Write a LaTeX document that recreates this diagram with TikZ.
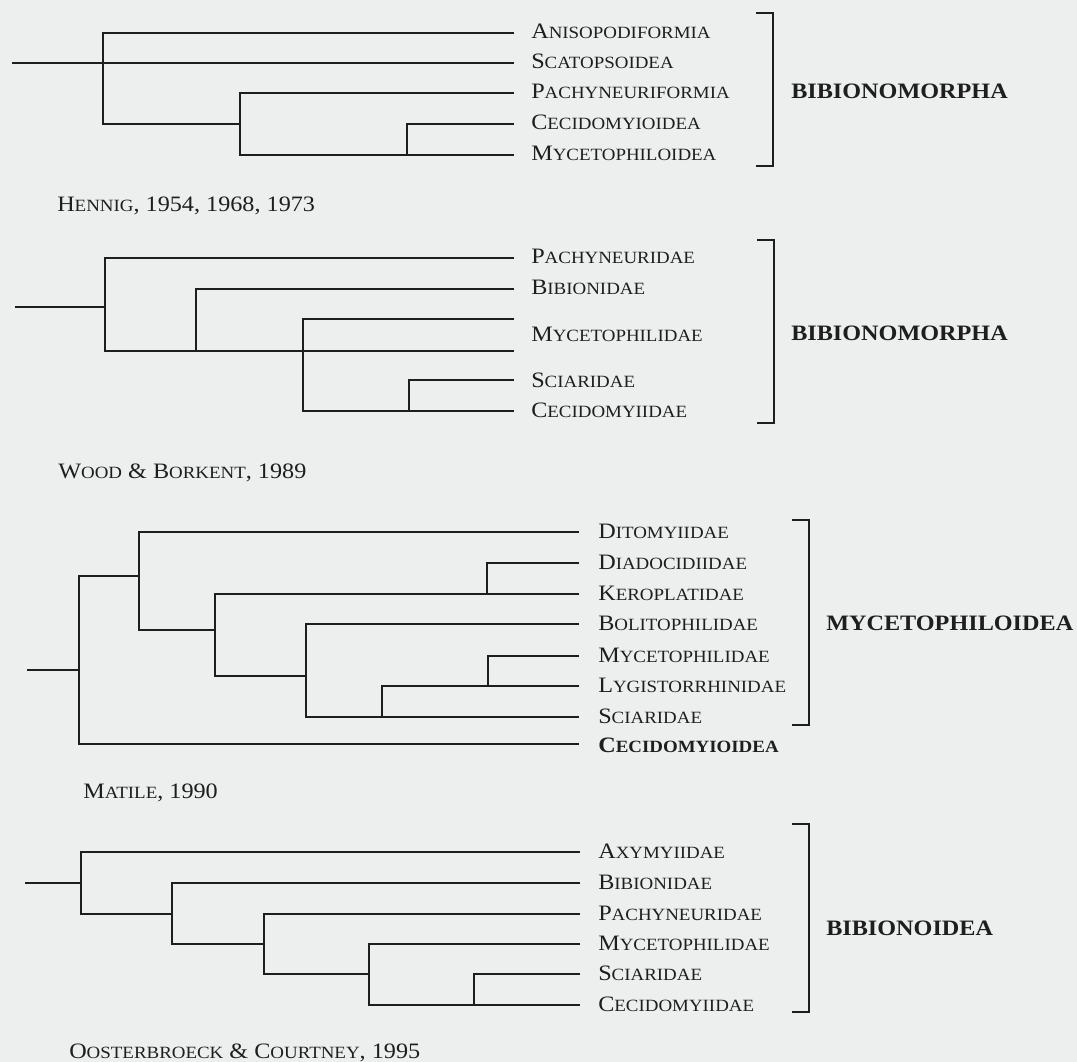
\documentclass[tikz,border=0pt]{standalone}
\usepackage{fontspec}
\newfontfamily\labfont[FakeStretch=1.1]{Liberation Serif}
\definecolor{paper}{HTML}{EDEFEF}
\definecolor{ink}{HTML}{1E1E1E}
% small capitals: full-size initial, reduced capitals after it
\newcommand\scap[2]{#1{\fontsize{12.9pt}{12.9pt}\selectfont #2}}
\tikzset{
  lab/.style={anchor=base west, inner sep=0pt, text=ink,
    font=\labfont\fontsize{16.5pt}{16.5pt}\selectfont},
  grp/.style={lab, font=\labfont\bfseries\fontsize{16.5pt}{16.5pt}\selectfont},
  branch/.style={draw=ink, line width=1.5pt},
  brk/.style={draw=ink, line width=1.5pt},
}
\begin{document}
\begin{tikzpicture}[x=0.75pt, y=-0.75pt]
\fill[paper] (0,0) rectangle (1077,1062);
\useasboundingbox (0,0) rectangle (1077,1062);

% ---------------- Hennig ----------------
\coordinate (h0) at (12,63);
\coordinate (hA) at (103,63);
\coordinate (hB) at (240,124);
\coordinate (hC) at (407,155);
\coordinate (h1e) at (514,33);
\coordinate (h2e) at (514,63);
\coordinate (h3e) at (514,93);
\coordinate (h4e) at (514,124);
\coordinate (h5e) at (514,155);
\draw[branch] (h0) -- (h2e);
\draw[branch] (h1e) -| (hA) |- (hB);
\draw[branch] (h3e) -| (hB) |- (h5e);
\draw[branch] (h4e) -| (hC);
\node[lab] (h1) at (531,39) {\scap{A}{NISOPODIFORMIA}};
\node[lab] (h2) at (531,69) {\scap{S}{CATOPSOIDEA}};
\node[lab] (h3) at (531,99) {\scap{P}{ACHYNEURIFORMIA}};
\node[lab] (h4) at (531,130) {\scap{C}{ECIDOMYIOIDEA}};
\node[lab] (h5) at (531,161) {\scap{M}{YCETOPHILOIDEA}};
\coordinate (hbt) at (773,13);
\coordinate (hbb) at (773,166);
\draw[brk] ([xshift=-17*0.75pt]hbt) -- (hbt) -- (hbb) -- ([xshift=-17*0.75pt]hbb);
\node[grp] (hg) at (791,99) {BIBIONOMORPHA};
\node[lab] (hcap) at (57,212) {\scap{H}{ENNIG}, 1954, 1968, 1973};

% ---------------- Wood & Borkent ----------------
\coordinate (w0) at (15,307);
\coordinate (wA) at (105,307);
\coordinate (wB) at (196,351);
\coordinate (wC) at (303,351);
\coordinate (wD) at (409,411);
\coordinate (w1e) at (514,258);
\coordinate (w2e) at (514,289);
\coordinate (w3e) at (514,319);
\coordinate (w4e) at (514,351);
\coordinate (w5e) at (514,380);
\coordinate (w6e) at (514,411);
\draw[branch] (w0) -- (wA);
\draw[branch] (w1e) -| (wA) |- (w4e);
\draw[branch] (w2e) -| (wB);
\draw[branch] (w3e) -| (wC) |- (w6e);
\draw[branch] (w5e) -| (wD);
\node[lab] (w1) at (531,264) {\scap{P}{ACHYNEURIDAE}};
\node[lab] (w2) at (531,295) {\scap{B}{IBIONIDAE}};
\node[lab] (w3) at (531,341) {\scap{M}{YCETOPHILIDAE}};
\node[lab] (w4) at (531,387) {\scap{S}{CIARIDAE}};
\node[lab] (w5) at (531,417) {\scap{C}{ECIDOMYIIDAE}};
\coordinate (wbt) at (774,240);
\coordinate (wbb) at (774,423);
\draw[brk] ([xshift=-17*0.75pt]wbt) -- (wbt) -- (wbb) -- ([xshift=-17*0.75pt]wbb);
\node[grp] (wg) at (791,340) {BIBIONOMORPHA};
\node[lab] (wcap) at (58,478) {\scap{W}{OOD} \& \scap{B}{ORKENT}, 1989};

% ---------------- Matile ----------------
\coordinate (m0) at (27,670);
\coordinate (mA) at (79,670);
\coordinate (mB) at (139,576);
\coordinate (mC) at (215,630);
\coordinate (mD) at (487,594);
\coordinate (mE) at (306,676);
\coordinate (mF) at (382,717);
\coordinate (mG) at (488,686);
\coordinate (m1e) at (579,532);
\coordinate (m2e) at (579,563);
\coordinate (m3e) at (579,594);
\coordinate (m4e) at (579,624);
\coordinate (m5e) at (579,656);
\coordinate (m6e) at (579,686);
\coordinate (m7e) at (579,717);
\coordinate (m8e) at (579,744);
\draw[branch] (m0) -- (mA);
\draw[branch] (mB) -| (mA) |- (m8e);
\draw[branch] (m1e) -| (mB) |- (mC);
\draw[branch] (m3e) -| (mC) |- (mE);
\draw[branch] (m2e) -| (mD);
\draw[branch] (m4e) -| (mE) |- (m7e);
\draw[branch] (m6e) -| (mF);
\draw[branch] (m5e) -| (mG);
\node[lab] (m1) at (598,538) {\scap{D}{ITOMYIIDAE}};
\node[lab] (m2) at (598,569) {\scap{D}{IADOCIDIIDAE}};
\node[lab] (m3) at (598,600) {\scap{K}{EROPLATIDAE}};
\node[lab] (m4) at (598,630) {\scap{B}{OLITOPHILIDAE}};
\node[lab] (m5) at (598,662) {\scap{M}{YCETOPHILIDAE}};
\node[lab] (m6) at (598,692) {\scap{L}{YGISTORRHINIDAE}};
\node[lab] (m7) at (598,723) {\scap{S}{CIARIDAE}};
\node[grp] (m8) at (598,752) {\scap{C}{ECIDOMYIOIDEA}};
\coordinate (mbt) at (809,520);
\coordinate (mbb) at (809,725);
\draw[brk] ([xshift=-17*0.75pt]mbt) -- (mbt) -- (mbb) -- ([xshift=-17*0.75pt]mbb);
\node[grp] (mg) at (826,630) {MYCETOPHILOIDEA};
\node[lab] (mcap) at (83,798) {\scap{M}{ATILE}, 1990};

% ---------------- Oosterbroeck & Courtney ----------------
\coordinate (o0) at (25,883);
\coordinate (oA) at (81,883);
\coordinate (oB) at (172,914);
\coordinate (oC) at (264,944);
\coordinate (oD) at (369,974);
\coordinate (oE) at (474,1005);
\coordinate (o1e) at (580,852);
\coordinate (o2e) at (580,883);
\coordinate (o3e) at (580,914);
\coordinate (o4e) at (580,944);
\coordinate (o5e) at (580,974);
\coordinate (o6e) at (580,1005);
\draw[branch] (o0) -- (oA);
\draw[branch] (o1e) -| (oA) |- (oB);
\draw[branch] (o2e) -| (oB) |- (oC);
\draw[branch] (o3e) -| (oC) |- (oD);
\draw[branch] (o4e) -| (oD) |- (o6e);
\draw[branch] (o5e) -| (oE);
\node[lab] (o1) at (598,858) {\scap{A}{XYMYIIDAE}};
\node[lab] (o2) at (598,889) {\scap{B}{IBIONIDAE}};
\node[lab] (o3) at (598,920) {\scap{P}{ACHYNEURIDAE}};
\node[lab] (o4) at (598,950) {\scap{M}{YCETOPHILIDAE}};
\node[lab] (o5) at (598,980) {\scap{S}{CIARIDAE}};
\node[lab] (o6) at (598,1011) {\scap{C}{ECIDOMYIIDAE}};
\coordinate (obt) at (809,824);
\coordinate (obb) at (809,1012);
\draw[brk] ([xshift=-17*0.75pt]obt) -- (obt) -- (obb) -- ([xshift=-17*0.75pt]obb);
\node[grp] (og) at (826,935) {BIBIONOIDEA};
\node[lab] (ocap) at (69,1058) {\scap{O}{OSTERBROECK} \& \scap{C}{OURTNEY}, 1995};
\end{tikzpicture}
\end{document}
